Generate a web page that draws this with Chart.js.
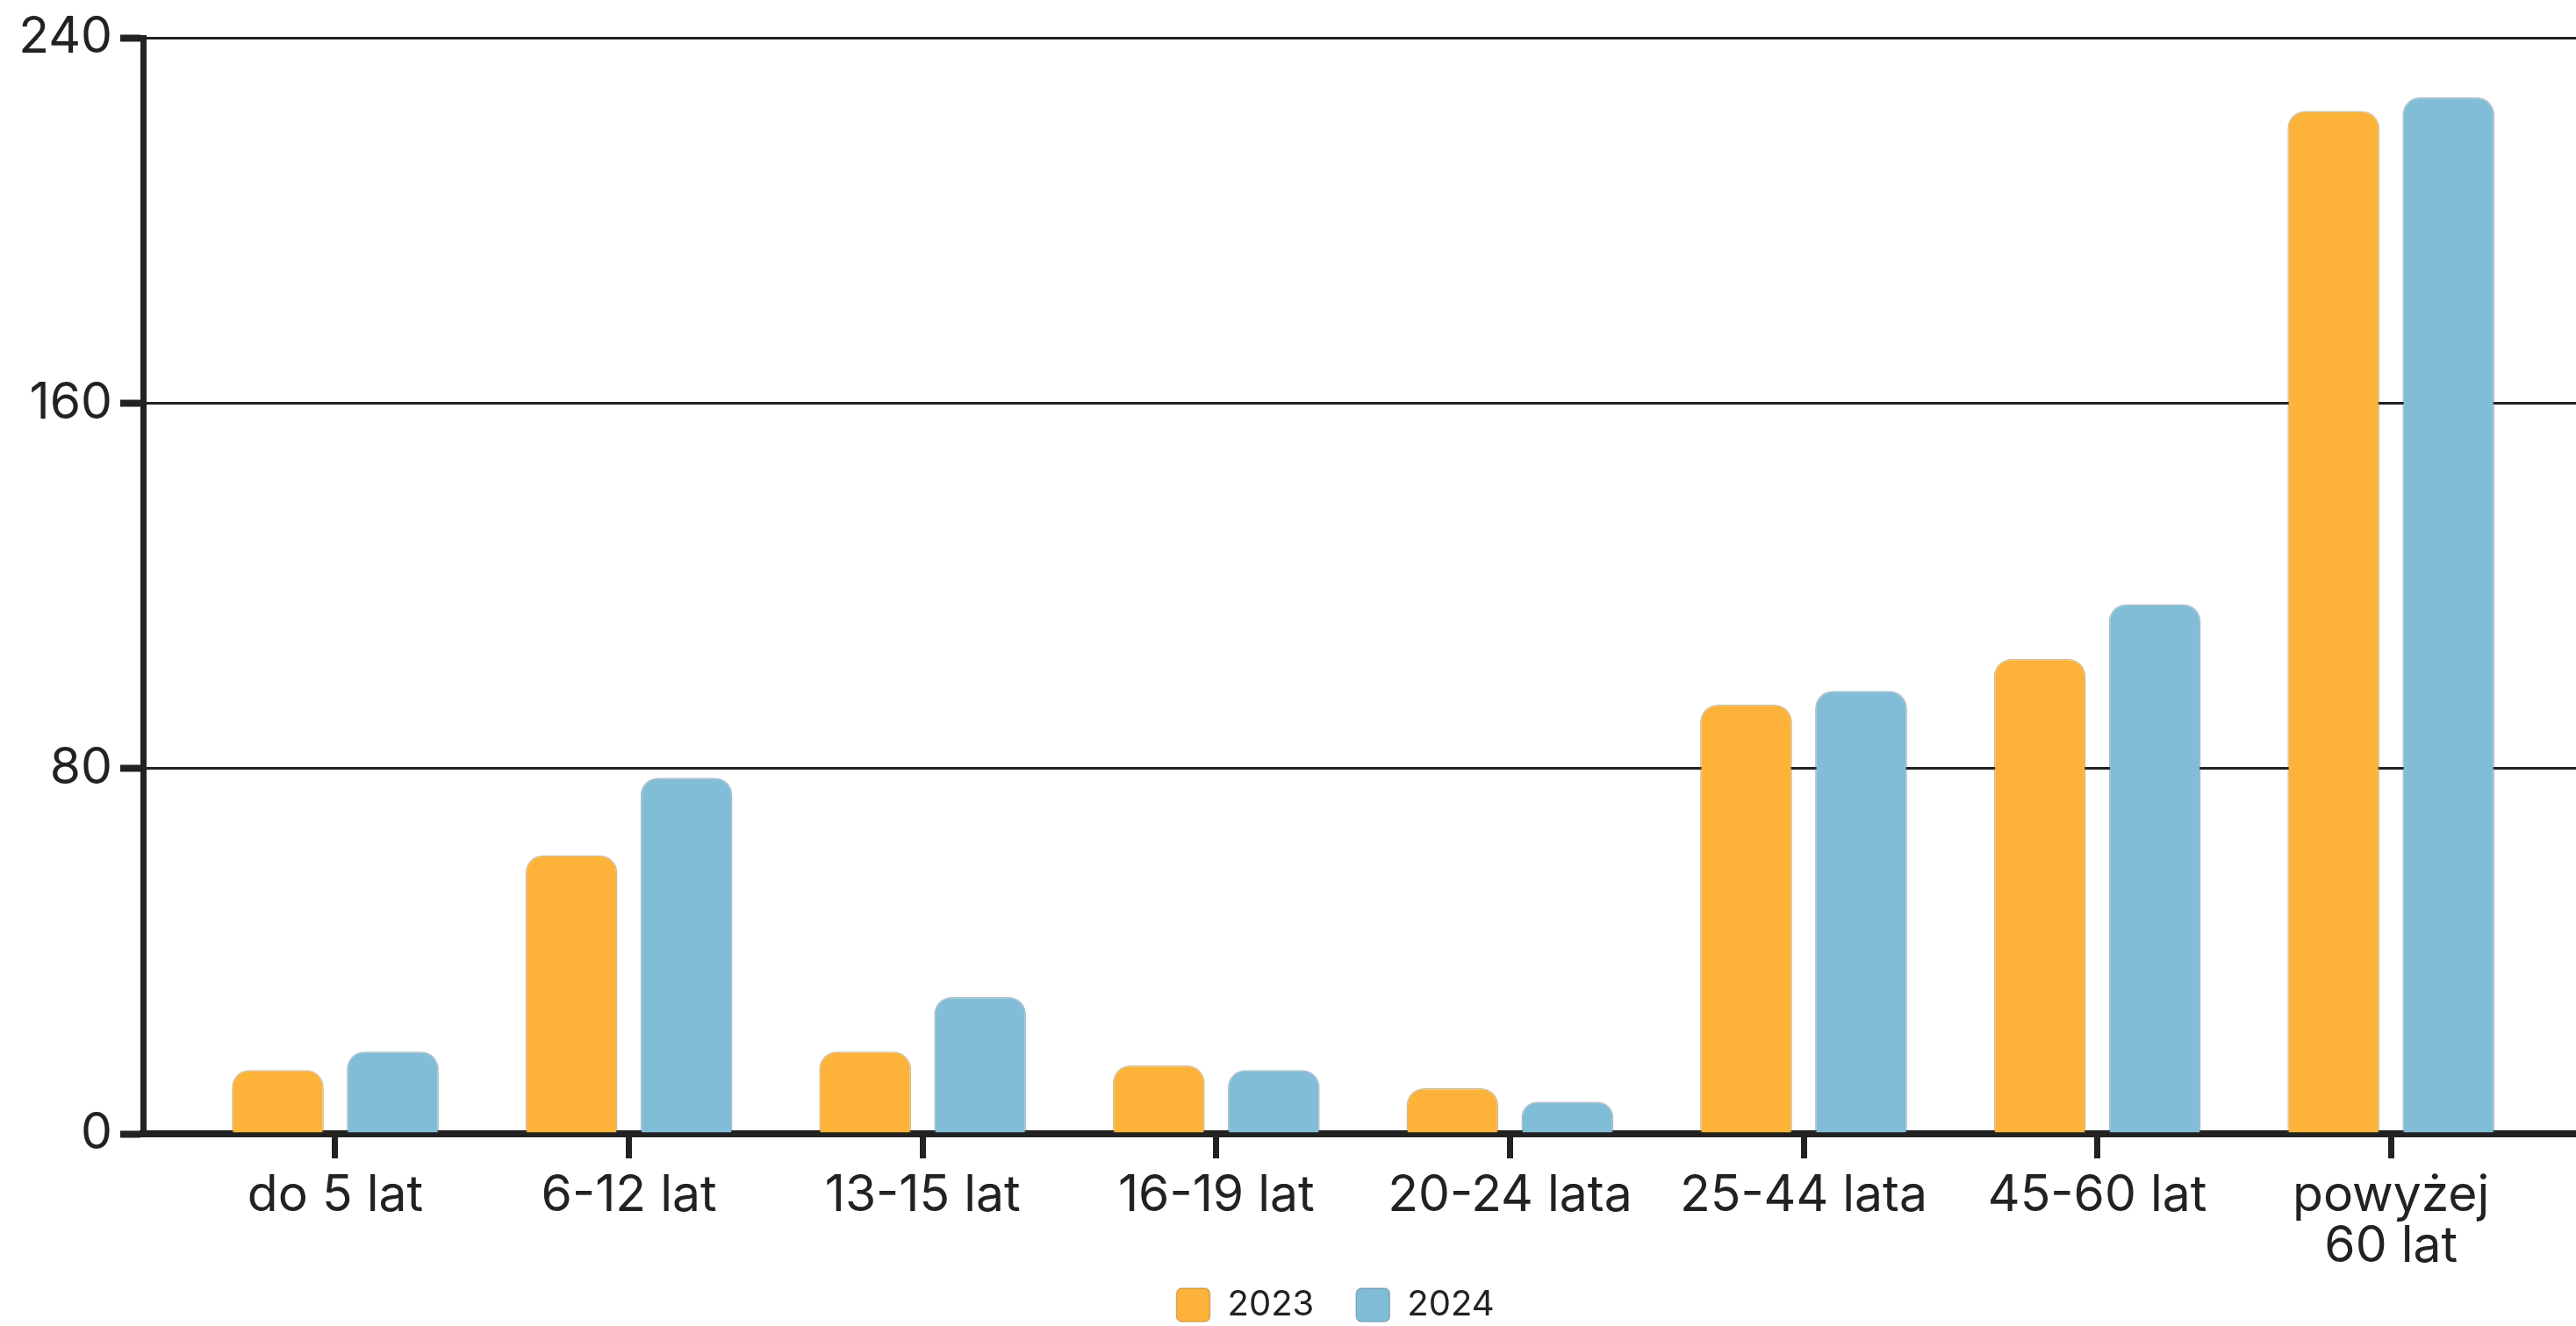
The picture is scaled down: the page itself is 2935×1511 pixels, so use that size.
<!DOCTYPE html>
<html>
<head>
<meta charset="utf-8">
<script src="https://cdn.jsdelivr.net/npm/chart.js@4"></script>
<style>
  html, body { margin: 0; padding: 0; background: #fff; }
  #wrap { width: 2935px; height: 1511px; position: relative; }
</style>
</head>
<body>
<div id="wrap"><canvas id="myChart"></canvas></div>
<script>
const ageGroups = ['do 5 lat', '6-12 lat', '13-15 lat', '16-19 lat', '20-24 lata', '25-44 lata', '45-60 lat', ['powyżej', '60 lat']];
const seriesNames = ['2023', '2024'];
const values2023 = [14, 61, 18, 15, 10, 94, 104, 224];
const values2024 = [18, 78, 30, 14, 7, 97, 116, 227];
const yTicks = [0, 80, 160, 240];

const ink = '#222222';
const fontName = 'Inter';

// bars sit on a linear x axis so the groups can be inset from the y axis
const toPoints = arr => arr.map((v, i) => ({ x: i, y: v }));

// tick labels may spill outside their axis boxes (y labels to the left, last x label downwards)
const labelRoom = {
    id: 'labelRoom',
    afterLayout: c => {
        c.scales.x.bottom = c.height;
        c.scales.y.left = 0;
    }
};

const ctx = document.getElementById('myChart').getContext('2d');
const chart = new Chart(ctx, {
    type: 'bar',
    data: {
        datasets: [{
            label: seriesNames[0],
            data: toPoints(values2023),
            backgroundColor: '#FDB339',
            borderColor: 'rgba(150, 110, 40, 0.45)',
            borderWidth: 1.5,
            borderRadius: 20,
            borderSkipped: 'start'
        }, {
            label: seriesNames[1],
            data: toPoints(values2024),
            backgroundColor: '#82BDD8',
            borderColor: 'rgba(70, 110, 130, 0.45)',
            borderWidth: 1.5,
            borderRadius: 20,
            borderSkipped: 'start'
        }]
    },
    plugins: [labelRoom],
    options: {
        responsive: true,
        maintainAspectRatio: false,
        animation: false,
        layout: { padding: { left: 108, top: 39, right: 0, bottom: 0 } },
        datasets: {
            bar: { categoryPercentage: 0.783, barPercentage: 0.8 }
        },
        plugins: {
            tooltip: { enabled: false },
            legend: {
                position: 'bottom',
                maxHeight: 92,
                labels: {
                    boxWidth: 38,
                    boxHeight: 38,
                    padding: 48,
                    useBorderRadius: true,
                    borderRadius: 6,
                    color: ink,
                    font: { family: fontName, size: 40 }
                }
            }
        },
        scales: {
            x: {
                type: 'linear',
                offset: false,
                min: -0.6545,
                max: 7.63,
                afterBuildTicks: axis => {
                    axis.ticks = ageGroups.map((_, i) => ({ value: i }));
                },
                afterFit: axis => { axis.height = 127; },
                grid: {
                    display: true,
                    offset: false,
                    drawOnChartArea: false,
                    drawTicks: true,
                    tickLength: 28,
                    tickWidth: 7,
                    tickColor: ink
                },
                border: { display: true, color: ink, width: 8 },
                ticks: {
                    autoSkip: false,
                    maxRotation: 0,
                    padding: 14,
                    color: ink,
                    font: { family: fontName, size: 57, lineHeight: 1.02 },
                    callback: value => ageGroups[value]
                }
            },
            y: {
                min: 0,
                max: 240,
                afterBuildTicks: axis => {
                    axis.ticks = yTicks.map(v => ({ value: v }));
                },
                afterFit: axis => { axis.width = 55; },
                grid: {
                    color: ink,
                    lineWidth: 3,
                    tickLength: 26,
                    tickWidth: 8,
                    tickColor: ink
                },
                border: { display: true, color: ink, width: 7 },
                ticks: {
                    padding: 9,
                    color: ink,
                    font: { family: fontName, size: 57 },
                    callback: value => String(value)
                }
            }
        }
    }
});
</script>
</body>
</html>
